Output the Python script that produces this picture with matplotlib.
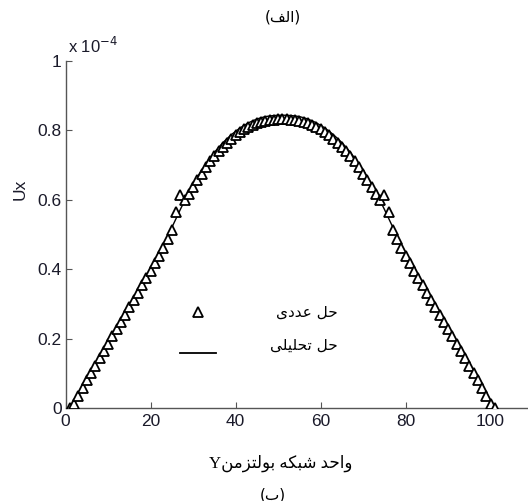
import matplotlib
matplotlib.use("Agg")
import matplotlib.pyplot as plt
from matplotlib.lines import Line2D

# ---- data (Ux in units of 1e-4) ----
y_numeric = list(range(1, 102))
ux_numeric = [
    0.000, 0.012, 0.035, 0.058, 0.080, 0.101, 0.122, 0.143, 0.164, 0.185,
    0.206, 0.227, 0.248, 0.269, 0.290, 0.311, 0.332, 0.353, 0.374, 0.395,
    0.416, 0.437, 0.461, 0.487, 0.513, 0.565, 0.612, 0.598, 0.616, 0.636,
    0.655, 0.675, 0.693, 0.710, 0.725, 0.740, 0.752, 0.764, 0.775, 0.785,
    0.794, 0.802, 0.809, 0.815, 0.820, 0.824, 0.827, 0.829, 0.830, 0.831,
    0.831,
    0.831, 0.830, 0.829, 0.827, 0.824, 0.820, 0.815, 0.809, 0.802, 0.794,
    0.785, 0.775, 0.764, 0.752, 0.740, 0.725, 0.710, 0.693, 0.675, 0.655,
    0.636, 0.616, 0.598, 0.612, 0.565, 0.513, 0.487, 0.461, 0.437, 0.416,
    0.395, 0.374, 0.353, 0.332, 0.311, 0.290, 0.269, 0.248, 0.227, 0.206,
    0.185, 0.164, 0.143, 0.122, 0.101, 0.080, 0.058, 0.035, 0.012, 0.000,
]
y_analytic = list(range(1, 102, 2))
ux_analytic = [
    0.000, 0.042, 0.084, 0.126, 0.168, 0.210, 0.251, 0.292, 0.333, 0.374,
    0.417, 0.468, 0.520, 0.572, 0.622, 0.665, 0.703, 0.736, 0.764, 0.787,
    0.806, 0.821, 0.832, 0.839, 0.842, 0.843,
    0.842, 0.839, 0.832, 0.821, 0.806, 0.787, 0.764, 0.736, 0.703, 0.665,
    0.622, 0.572, 0.520, 0.468, 0.417, 0.374, 0.333, 0.292, 0.251, 0.210,
    0.168, 0.126, 0.084, 0.042, 0.000,
]
x_ticks = [0, 20, 40, 60, 80, 100]
y_ticks = [0, 0.2, 0.4, 0.6, 0.8, 1]
y_tick_labels = ["0", "0.2", "0.4", "0.6", "0.8", "1"]

# Arabic/Persian text in visual order with presentation forms
title_top = "(\uFED2\uFEDF\uFE8D)"                       # (الف)
title_bottom = "(\uFE8F)"                                # (ب)
leg_numeric = "\uFEEF\uFEA9\uFEAA\uFECB \uFEDE\uFEA3"    # حل عددی
leg_analytic = "\uFEF0\uFEE0\uFEF4\uFEE0\uFEA4\uFE97 \uFEDE\uFEA3"  # حل تحلیلی
xlabel_text = ("Y\uFEE6\uFEE3\uFEB0\uFE98\uFEDF\uFEEE\uFE91 "
               "\uFEEA\uFEDC\uFE92\uFEB7 \uFEAA\uFEA3\uFE8D\uFEED")  # واحد شبکه بولتزمن Y

plt.rcParams['font.family'] = ['Liberation Sans', 'DejaVu Sans']

fig = plt.figure(figsize=(5.28, 5.01), dpi=100)
ax = fig.add_axes([0.1244, 0.1856, 0.8756, 0.6934])

ax.plot(y_analytic, ux_analytic, color='black', lw=1.0, zorder=2)
ax.plot(y_numeric, ux_numeric, linestyle='none', marker='^', markersize=6.5,
        markerfacecolor='white', markeredgecolor='black', markeredgewidth=1.3,
        zorder=3)

ax.set_xlim(0, 108.8)
ax.set_ylim(0, 1)
ax.set_xticks(x_ticks)
ax.set_yticks(y_ticks)
ax.set_yticklabels(y_tick_labels)
ax.spines['top'].set_visible(False)
ax.spines['right'].set_visible(False)
for s in ['left', 'bottom']:
    ax.spines[s].set_color('#555555')
    ax.spines[s].set_linewidth(1.0)
ax.tick_params(direction='in', length=4, color='#555555', labelsize=12.5,
               labelcolor='#1a1a2a')
ax.tick_params(axis='x', pad=4)
ax.tick_params(axis='y', pad=3)

ax.set_ylabel("Ux", fontsize=12.5, color='#1a1a2a')
ax.yaxis.set_label_coords(-0.082, 0.63)
ax.text(0.005, 1.012, "x 10$^{-4}$", transform=ax.transAxes, fontsize=12,
        color='#1a1a2a', ha='left', va='bottom')

ax.set_xlabel(xlabel_text, fontsize=12, family=['Liberation Serif', 'DejaVu Sans'])
ax.xaxis.set_label_coords(0.465, -0.135)

# legend (manual, as in the reference)
ax.add_line(Line2D([0.286], [0.277], transform=ax.transAxes, linestyle='none',
                   marker='^', markersize=6.5, markerfacecolor='white',
                   markeredgecolor='black', markeredgewidth=1.3))
ax.add_line(Line2D([0.247, 0.325], [0.158, 0.158], transform=ax.transAxes,
                   color='black', lw=1.3))
ax.text(0.589, 0.277, leg_numeric, transform=ax.transAxes, ha='right',
        va='center', fontsize=11, family=['DejaVu Sans'])
ax.text(0.589, 0.182, leg_analytic, transform=ax.transAxes, ha='right',
        va='center', fontsize=11, family=['DejaVu Sans'])

fig.text(0.536, 0.966, title_top, ha='center', va='center', fontsize=11,
         family=['DejaVu Sans'])
fig.text(0.517, 0.012, title_bottom, ha='center', va='center', fontsize=11,
         family=['DejaVu Sans'])

fig.savefig("out.png", dpi=100)
